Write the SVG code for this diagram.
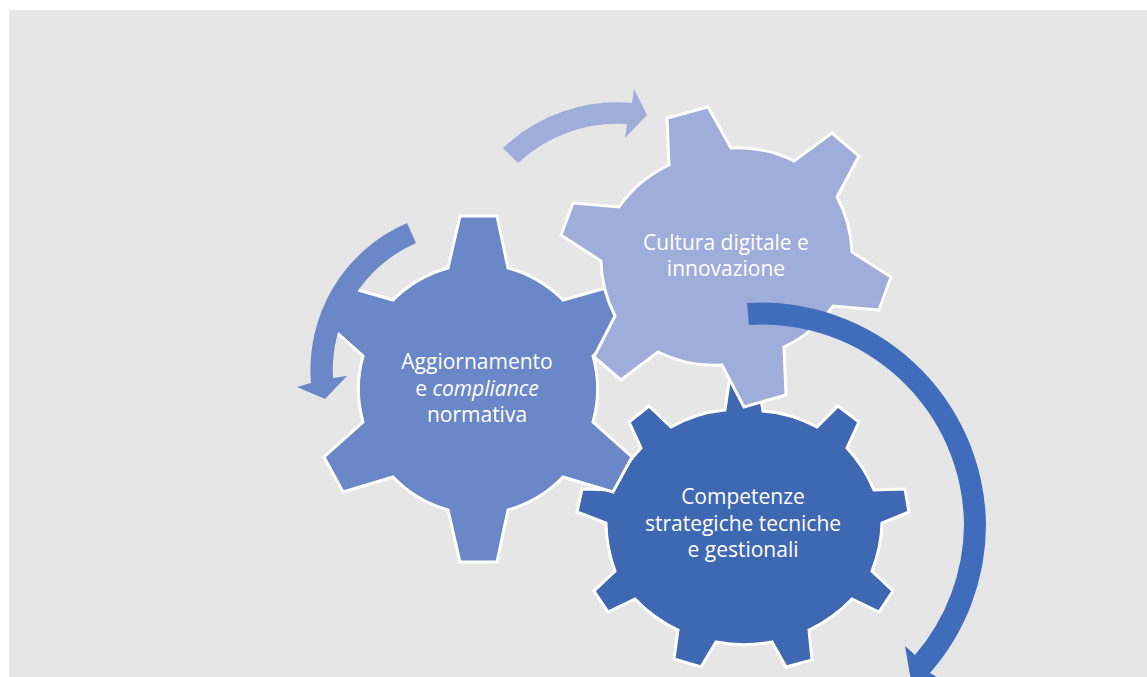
<svg xmlns="http://www.w3.org/2000/svg" width="1147" height="677" viewBox="0 0 1147 677">
<style>
.gear{stroke:#fff;stroke-width:3;stroke-linejoin:miter}
.t{font-family:"Open Sans","Noto Sans",sans-serif;font-size:21px;fill:#fff;text-anchor:middle}
</style>
<rect width="1147" height="677" fill="#fff"/>
<rect x="9" y="10" width="1138" height="667" fill="#e6e6e6"/>
<g id="gear-competenze">
<path class="gear" fill="#3f68b2" d="M725 410L732 362L755 362L763 411A135 135 0 0 1 817 427L838 406L859 422L847 448A140 140 0 0 1 874 490L905 489L909 512L882 523A140 140 0 0 1 872 571L893 591L879 612L852 599A140 140 0 0 1 809 630L812 660L786 667L772 642A150 150 0 0 1 716 642L701 667L674 659L678 630A140 140 0 0 1 635 599L608 612L594 591L615 571A140 140 0 0 1 606 523L577 512L582 489L613 490A140 140 0 0 1 641 448L629 422L649 406L671 427A135 135 0 0 1 725 410Z"/>
<text class="t" x="743" y="504">Competenze</text>
<text class="t" x="743" y="531">strategiche tecniche</text>
<text class="t" x="743" y="557">e gestionali</text>
</g>
<g id="gear-aggiornamento">
<path class="gear" fill="#6a87c8" d="M460 216L497 216L508 268A124 124 0 0 1 563 300L613 286L632 321L593 356A122 122 0 0 1 593 422L632 457L613 492L563 477A124 124 0 0 1 508 510L497 562L460 562L448 510A124 124 0 0 1 393 477L343 492L324 457L363 422A122 122 0 0 1 363 356L324 321L344 286L393 300A124 124 0 0 1 448 268Z"/>
<text class="t" x="477" y="369">Aggiornamento</text>
<text class="t" x="477" y="396">e <tspan font-style="italic">compliance</tspan></text>
<text class="t" x="477" y="422">normativa</text>
</g>
<g id="gear-cultura">
<path class="gear" fill="#9eadd9" d="M667 118L708 107L731 148A126 126 0 0 1 794 161L832 133L859 156L837 197A126 126 0 0 1 852 252L891 277L879 310L833 306A126 126 0 0 1 784 347L786 395L744 407L722 365A126 126 0 0 1 658 352L621 380L594 357L615 316A126 126 0 0 1 601 261L561 235L573 203L619 207A126 126 0 0 1 669 165Z"/>
<text class="t" x="726" y="250">Cultura digitale e</text>
<text class="t" x="726" y="276">innovazione</text>
</g>
<g id="connectors">
<path fill="#6a87c8" d="M407 223L416 243A139 139 0 0 0 333 378L347 376L325 399L297 387L311 383A160 160 0 0 1 407 223Z"/>
<path fill="#9eadd9" d="M503 148L518 163A145 145 0 0 1 627 124L625 138L647 115L634 89L632 103A166 166 0 0 0 503 148Z"/>
<path fill="#3f6cbb" d="M747 303A225 225 0 0 1 986 525A225 225 0 0 1 930 673L945 682L915 704L905 646L915 655A202 202 0 0 0 964 525A202 202 0 0 0 749 325Z"/>
</g>
</svg>
